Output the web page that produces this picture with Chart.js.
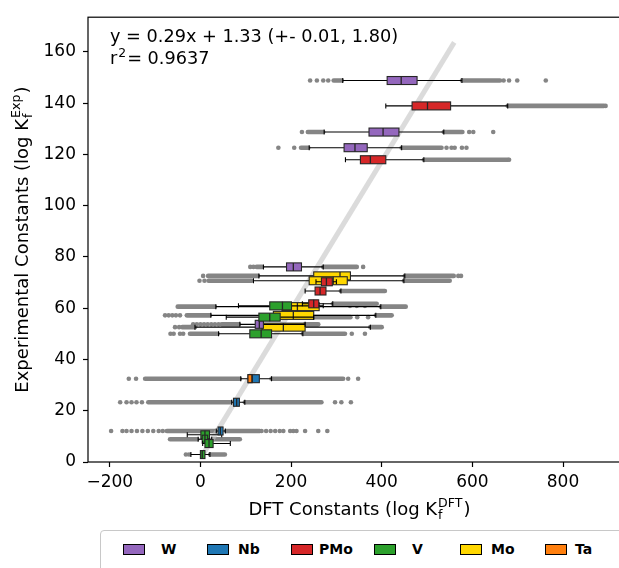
<!DOCTYPE html>
<html>
<head>
<meta charset="utf-8">
<script src="https://cdn.jsdelivr.net/npm/chart.js@4.4.1/dist/chart.umd.min.js"></script>
<style>
  html, body { margin: 0; padding: 0; background: #fff; overflow: hidden; width: 619px; height: 568px; }
  #wrap { position: absolute; left: 0; top: 0; width: 660px; height: 525px; }
  #legend { position: absolute; left: 100px; top: 530px; width: 560px; height: 60px;
            border: 1px solid #c8c8c8; border-radius: 4px; box-sizing: border-box;
            font-family: "DejaVu Sans"; font-weight: bold; font-size: 14px; }
  .patch { position: absolute; top: 13px; width: 22px; height: 11px; border: 1px solid #000; box-sizing: border-box; }
  .lab { position: absolute; top: 10px; line-height: 17px; }
</style>
</head>
<body>
<div id="wrap"><canvas id="chart" width="660" height="525"></canvas></div>
<div id="legend"></div>
<script>
// Box plots of formation constants: DFT (x) vs experimental (y), one box per species.

const groups = ["W", "Nb", "PMo", "V", "Mo", "Ta"];
const legendPatchX = [22, 106, 190, 273, 359, 444];
const legendLabelX = [60, 137, 218, 311, 390, 474];

// fit line
const fitX = [4, 560];
const fitY = [2.5, 163.7];
const fitText = "y = 0.29x + 1.33 (+- 0.01, 1.80)";
const r2Text = "0.9637";

const xTickValues = [-200, 0, 200, 400, 600, 800];
const yTickValues = [0, 20, 40, 60, 80, 100, 120, 140, 160];

// one entry per box, in drawing order
const boxGroup = ["Mo", "Mo", "Mo", "Mo", "Mo",
                  "W", "W", "W", "W", "W",
                  "V", "V", "V", "V", "V", "V", "V",
                  "PMo", "PMo", "PMo", "PMo", "PMo",
                  "Nb", "Nb", "Nb", "Ta"];
const boxY      = [72.6, 70.7, 60.6, 57.2, 52.6,
                   148.8, 128.7, 122.6, 76.1, 53.7,
                   60.9, 56.5, 50.0, 10.6, 8.9, 7.2, 2.9,
                   138.9, 117.9, 70.3, 66.7, 61.7,
                   32.5, 23.3, 12.1, 32.5];
const boxQ1     = [250, 240, 180, 161, 136,
                   412, 372, 317, 190, 121,
                   153, 129, 109, 1, 4, 10, 0,
                   467, 353, 267, 253, 239,
                   105, 73, 39, 105];
const boxMed    = [308, 293, 214, 205, 183,
                   443, 403, 341, 205, 130,
                   181, 153, 134, 10, 10, 19, 4,
                   501, 375, 278, 264, 250,
                   114, 80, 44, 114];
const boxQ3     = [331, 324, 262, 250, 231,
                   478, 438, 368, 223, 139,
                   201, 176, 157, 20, 16, 28, 10,
                   552, 409, 291, 277, 261,
                   130, 86, 50, 114];
const whiskerLo = [129, 117, 34, 23, -12,
                   314, 273, 240, 139, 87,
                   84, 57, 40, -29, -5, 5, -21,
                   409, 320, 255, 231, 225,
                   89, 69, 35, 105];
const whiskerHi = [451, 449, 398, 387, 375,
                   577, 537, 444, 271, 231,
                   271, 250, 226, 47, 25, 66, 21,
                   678, 493, 300, 310, 292,
                   157, 98, 55, 114];
// dense stretches of outliers [from, to]
const outlierRuns = [
  [[17, 127], [451, 559]], [[18, 113], [449, 550]], [[-50, 32], [398, 453]], [[-30, 21], [387, 422]], [[-40, -12], [375, 400]],
  [[294, 312], [577, 661]], [[237, 271], [537, 578]], [[222, 238], [444, 532]], [[124, 136], [271, 345]], [[47, 85], [231, 260]],
  [], [[253, 331]], [[-23, 38], [226, 319]], [], [[-67, -7], [27, 87]], [], [[21, 54]],
  [[678, 890]], [[493, 679]], [], [[310, 407]], [[292, 389]],
  [[-122, 87], [157, 315]], [[-115, 67], [98, 267]], [[-74, 33], [57, 131]], []
];
// single outlier points
const outlierDots = [
  [6, 569, 575], [-2, 9], [], [-78, -70, -62, -54, -45], [-56, -47],
  [242, 257, 271, 282, 669, 681, 699, 762], [224, 593, 602, 646], [172, 207, 543, 554, 561, 577, 587], [110, 117, 359], [-16, -8, 0, 8, 16, 24, 32, 40],
  [330, 345, 363], [346, 370], [-66, -59, -45, -38, 334, 363], [], [], [], [-32, -25],
  [894], [681], [], [], [],
  [-158, -142, 326, 348], [-177, -163, -152, -141, -129, 297, 311, 332],
  [-197, -172, -163, -152, -140, -128, -116, -104, -92, -83, 135, 145, 155, 165, 175, 183, 198, 205, 212, 231, 260, 280],
  []
];

const colors = {
  W: "#9467bd", Nb: "#1f77b4", PMo: "#d62728", V: "#2ca02c", Mo: "#ffd700", Ta: "#ff7f0e",
  outlier: "#858585", fit: "rgba(195,195,195,0.6)", edge: "#262626",
};
const FONT = "DejaVu Sans";
const FS = 17;      // tick labels
const FS_TITLE = 18; // axis titles and fit text

const dots = boxY.flatMap((yv, i) => outlierDots[i].map((xv) => ({ x: xv, y: yv })));
const fitData = fitX.map((xv, i) => ({ x: xv, y: fitY[i] }));

function richWidth(ctx, parts, size) {
  let w = 0;
  for (const p of parts) {
    if (p.text !== undefined) {
      ctx.font = `${size}px "${FONT}"`;
      w += ctx.measureText(p.text).width;
    } else {
      ctx.font = `${size * 0.7}px "${FONT}"`;
      w += Math.max(p.sub ? ctx.measureText(p.sub).width : 0, p.sup ? ctx.measureText(p.sup).width : 0) + 2;
    }
  }
  return w;
}

function drawRich(ctx, parts, x, y, size) {
  let cx = x;
  for (const p of parts) {
    if (p.text !== undefined) {
      ctx.font = `${size}px "${FONT}"`;
      ctx.fillText(p.text, cx, y);
      cx += ctx.measureText(p.text).width;
    } else {
      ctx.font = `${size * 0.7}px "${FONT}"`;
      let w = 0;
      if (p.sub) { ctx.fillText(p.sub, cx + 1, y + size * 0.2); w = ctx.measureText(p.sub).width; }
      if (p.sup) { ctx.fillText(p.sup, cx + 1, y - size * 0.42); w = Math.max(w, ctx.measureText(p.sup).width); }
      cx += w + 2;
    }
  }
}

const xTitle = [{ text: "DFT Constants (log K" }, { sub: "f", sup: "DFT" }, { text: ")" }];
const yTitle = [{ text: "Experimental Constants (log K" }, { sub: "f", sup: "Exp" }, { text: ")" }];

const boxPlugin = {
  id: "boxes",
  beforeDatasetsDraw(chart) {
    const { ctx, chartArea: a, scales: { x, y } } = chart;
    ctx.save();
    ctx.beginPath(); ctx.rect(a.left, a.top, a.width, a.height); ctx.clip();
    ctx.strokeStyle = colors.outlier;
    ctx.lineWidth = 4.6;
    ctx.lineCap = "round";
    boxY.forEach((yv, i) => {
      const py = y.getPixelForValue(yv);
      outlierRuns[i].forEach(([r0, r1]) => {
        ctx.beginPath();
        ctx.moveTo(x.getPixelForValue(r0), py);
        ctx.lineTo(x.getPixelForValue(r1), py);
        ctx.stroke();
      });
    });
    ctx.restore();
  },
  afterDatasetsDraw(chart) {
    const { ctx, chartArea: a, scales: { x, y } } = chart;
    ctx.save();
    ctx.beginPath(); ctx.rect(a.left, a.top, a.width, a.height); ctx.clip();
    ctx.lineCap = "butt";
    boxY.forEach((yv, i) => {
      const py = y.getPixelForValue(yv);
      const x1 = x.getPixelForValue(boxQ1[i]);
      const x3 = x.getPixelForValue(boxQ3[i]);
      const wl = x.getPixelForValue(whiskerLo[i]);
      const wh = x.getPixelForValue(whiskerHi[i]);
      ctx.strokeStyle = "#000";
      ctx.lineWidth = 1.1;
      ctx.beginPath();
      if (wl < x1) { ctx.moveTo(wl, py); ctx.lineTo(x1, py); ctx.moveTo(wl, py - 2.5); ctx.lineTo(wl, py + 2.5); }
      if (wh > x3) { ctx.moveTo(x3, py); ctx.lineTo(wh, py); ctx.moveTo(wh, py - 2.5); ctx.lineTo(wh, py + 2.5); }
      ctx.stroke();
      ctx.fillStyle = colors[boxGroup[i]];
      ctx.fillRect(x1, py - 4, Math.max(x3 - x1, 1), 8);
      ctx.strokeStyle = colors.edge;
      ctx.strokeRect(x1, py - 4, Math.max(x3 - x1, 1), 8);
      const xm = x.getPixelForValue(boxMed[i]);
      ctx.lineWidth = 1.3;
      ctx.beginPath(); ctx.moveTo(xm, py - 4); ctx.lineTo(xm, py + 4); ctx.stroke();
    });
    ctx.restore();
  },
  afterDraw(chart) {
    const { ctx, chartArea: a } = chart;
    ctx.save();
    ctx.strokeStyle = "#000";
    ctx.lineWidth = 1.2;
    ctx.strokeRect(a.left, a.top, a.right - a.left, a.bottom - a.top);
    ctx.fillStyle = "#000";
    ctx.textBaseline = "alphabetic";
    ctx.font = `17.7px "${FONT}"`;
    ctx.fillText(fitText, 110, 42);
    drawRich(ctx, [{ text: "r" }, { sup: "2" }, { text: "= " + r2Text }], 110, 64, 17.7);
    const wx = richWidth(ctx, xTitle, FS_TITLE);
    drawRich(ctx, xTitle, (a.left + a.right) / 2 - wx / 2, 515, FS_TITLE);
    const wy = richWidth(ctx, yTitle, FS_TITLE);
    ctx.translate(28, (a.top + a.bottom) / 2);
    ctx.rotate(-Math.PI / 2);
    drawRich(ctx, yTitle, -wy / 2, 0, FS_TITLE);
    ctx.restore();
  },
};

const tickFont = { family: FONT, size: FS };
const setTicks = (values) => (s) => { s.ticks = values.map((v) => ({ value: v })); };

new Chart(document.getElementById("chart"), {
  type: "scatter",
  data: {
    datasets: [
      { type: "line", data: fitData, borderColor: colors.fit, borderWidth: 5, pointRadius: 0, borderCapStyle: "butt" },
      { data: dots, backgroundColor: colors.outlier, pointRadius: 2.3, pointBorderWidth: 0 },
    ],
  },
  options: {
    responsive: false,
    animation: false,
    layout: { padding: { top: 13, right: 29, left: 0, bottom: 0 } },
    plugins: { legend: { display: false }, tooltip: { enabled: false } },
    scales: {
      x: {
        type: "linear", min: -248, max: 950,
        afterBuildTicks: setTicks(xTickValues),
        ticks: { font: tickFont, color: "#000", padding: 5, maxRotation: 0, autoSkip: false,
                 callback: (v) => String(v).replace("-", "\u2212") },
        grid: { drawOnChartArea: false, drawTicks: true, tickLength: 5, color: "#000", tickWidth: 1.2 },
        border: { display: false },
        afterFit: (s) => { s.height = 63; },
      },
      y: {
        type: "linear", min: 0, max: 173.5,
        afterBuildTicks: setTicks(yTickValues),
        ticks: { font: tickFont, color: "#000", padding: 7 },
        grid: { drawOnChartArea: false, drawTicks: true, tickLength: 5, color: "#000", tickWidth: 1.2 },
        border: { display: false },
        afterFit: (s) => { s.width = 88; },
      },
    },
  },
  plugins: [boxPlugin],
});

// legend under the axes
const legendEl = document.getElementById("legend");
groups.forEach((g, i) => {
  const p = document.createElement("div");
  p.className = "patch";
  p.style.left = legendPatchX[i] + "px";
  p.style.background = colors[g];
  legendEl.appendChild(p);
  const l = document.createElement("div");
  l.className = "lab";
  l.style.left = legendLabelX[i] + "px";
  l.textContent = g;
  legendEl.appendChild(l);
});
</script>
</body>
</html>
